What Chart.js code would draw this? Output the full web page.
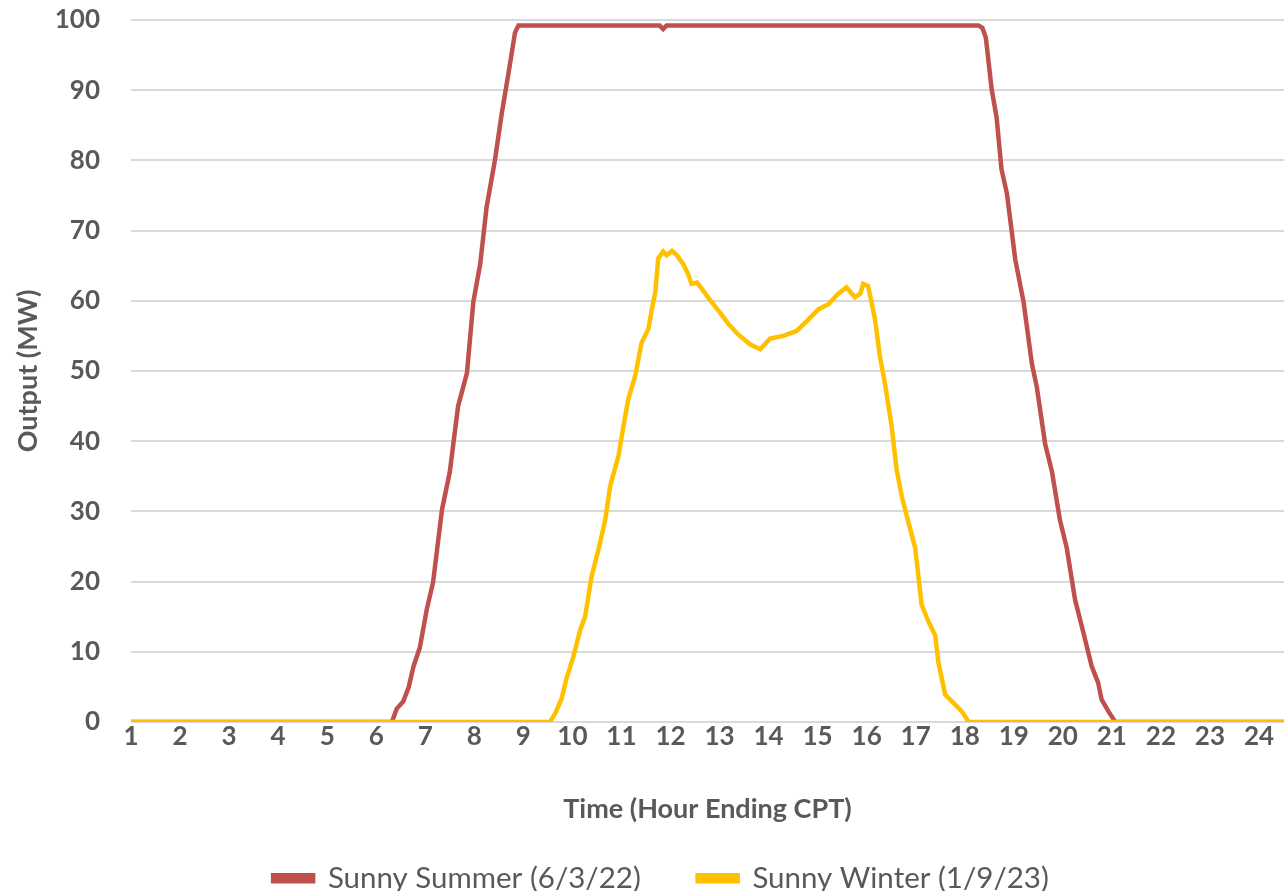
<!DOCTYPE html>
<html>
<head>
<meta charset="utf-8">
<script src="https://cdn.jsdelivr.net/npm/chart.js@4.4.0/dist/chart.umd.min.js"></script>
<style>
  html, body { margin: 0; padding: 0; background: #ffffff; }
  #wrap { width: 1284px; height: 891px; }
</style>
</head>
<body>
<div id="wrap"><canvas id="chartSolar"></canvas></div>
<script>
// hour ending (CPT) -> output (MW)
const summerHours = [1, 6.32, 6.42, 6.55, 6.66, 6.76, 6.89, 7.03, 7.16, 7.34, 7.50, 7.67, 7.85, 7.98,
    8.12, 8.25, 8.42, 8.56, 8.69, 8.83, 8.90, 11.78, 11.85, 11.92, 18.28, 18.36, 18.43, 18.55, 18.65,
    18.75, 18.86, 19.03, 19.20, 19.37, 19.47, 19.64, 19.78, 19.94, 20.08, 20.25, 20.42, 20.59, 20.72,
    20.79, 20.93, 21.07, 24.9];
const summerMW = [0, 0, 1.9, 2.9, 4.9, 7.9, 10.6, 16, 19.9, 30.2, 35.6, 45, 49.7, 59.8,
    65.2, 73.3, 80, 86.7, 92.1, 98.2, 99.2, 99.2, 98.7, 99.2, 99.2, 98.9, 97.5, 90.1, 86.1,
    78.7, 75.3, 65.9, 59.8, 51, 47.7, 39.6, 35.6, 28.8, 24.8, 17.4, 12.7, 7.9, 5.6,
    3.2, 1.5, 0, 0];

const winterHours = [1, 9.54, 9.65, 9.78, 9.88, 10.02, 10.16, 10.26, 10.39, 10.53, 10.67, 10.77, 10.94,
    11.04, 11.14, 11.28, 11.41, 11.55, 11.62, 11.69, 11.75, 11.85, 11.92, 12.03, 12.13, 12.26, 12.36,
    12.43, 12.54, 12.67, 12.84, 13.01, 13.18, 13.38, 13.62, 13.83, 14.03, 14.30, 14.57, 14.78, 15.02,
    15.22, 15.42, 15.59, 15.76, 15.87, 15.93, 16.03, 16.17, 16.27, 16.38, 16.51, 16.61, 16.72, 16.85,
    16.99, 17.12, 17.26, 17.40, 17.46, 17.60, 17.77, 17.94, 18.08, 24.9];
const winterMW = [0, 0, 1.2, 3.3, 6.2, 9.3, 13.1, 15, 20.7, 24.5, 28.8, 33.6, 37.9,
    42.1, 46, 49.3, 54, 56, 58.8, 61.2, 66, 67, 66.5, 67.1, 66.5, 65.2, 63.8,
    62.4, 62.6, 61.4, 59.8, 58.3, 56.7, 55.2, 53.8, 53.1, 54.6, 55, 55.7, 57.1, 58.8,
    59.5, 61, 61.9, 60.5, 61, 62.4, 62.1, 57.4, 52.1, 47.9, 42.1, 36, 32, 28.5,
    24.8, 16.7, 14.3, 12.3, 8.6, 3.9, 2.7, 1.5, 0, 0];

const seriesNames = ["Sunny Summer (6/3/22)", "Sunny Winter (1/9/23)"];
const xTicks = [1, 2, 3, 4, 5, 6, 7, 8, 9, 10, 11, 12, 13, 14, 15, 16, 17, 18, 19, 20, 21, 22, 23, 24];
const yTicks = [0, 10, 20, 30, 40, 50, 60, 70, 80, 90, 100];

const textColor = "#595959";

function toPoints(xs, ys) {
    return xs.map((x, i) => ({ x: x, y: ys[i] }));
}

const data = {
    datasets: [
        {
            label: seriesNames[0],
            data: toPoints(summerHours, summerMW),
            borderColor: "#C0504D",
            backgroundColor: "#C0504D",
            borderWidth: 4.5,
            pointRadius: 0,
            tension: 0,
            order: 1,
        },
        {
            // winter drawn on top, like the reference
            label: seriesNames[1],
            data: toPoints(winterHours, winterMW),
            borderColor: "#FFC000",
            backgroundColor: "#FFC000",
            borderWidth: 4.5,
            pointRadius: 0,
            tension: 0,
            order: 0,
        },
    ],
};

const config = {
    type: "line",
    data: data,
    options: {
        responsive: true,
        maintainAspectRatio: false,
        animation: false,
        layout: { padding: { top: 0, right: 0, bottom: -12, left: 38 } },
        scales: {
            x: {
                type: "linear",
                min: 1,
                max: 24.51,
                grid: { display: false },
                border: { display: false },
                afterBuildTicks: (axis) => {
                    axis.ticks = xTicks.map((v) => ({ value: v }));
                },
                ticks: {
                    autoSkip: false,
                    maxRotation: 0,
                    padding: -9,
                    color: textColor,
                    font: { family: "Lato", size: 26, weight: "bold" },
                },
                title: {
                    display: true,
                    text: "Time (Hour Ending CPT)",
                    color: textColor,
                    padding: { top: 50, bottom: 34 },
                    font: { family: "Lato", size: 27, weight: "bold" },
                },
            },
            y: {
                min: 0,
                max: 100,
                afterBuildTicks: (axis) => {
                    axis.ticks = yTicks.map((v) => ({ value: v }));
                },
                afterFit: (axis) => {
                    axis.width = 93;
                    axis.paddingTop = 20;
                    axis.paddingBottom = 0;
                },
                grid: { color: "#D9D9D9", lineWidth: 2, drawTicks: false },
                border: { display: false },
                ticks: {
                    padding: 31,
                    color: textColor,
                    font: { family: "Lato", size: 26, weight: "bold" },
                },
                title: {
                    display: true,
                    text: "Output (MW)",
                    color: textColor,
                    padding: { top: -26, bottom: 0 },
                    font: { family: "Lato", size: 27, weight: "bold" },
                },
            },
        },
        plugins: {
            tooltip: { enabled: false },
            legend: {
                position: "bottom",
                labels: {
                    boxWidth: 40,
                    boxHeight: 6,
                    padding: 4,
                    color: textColor,
                    font: { family: "Lato", size: 29.5, lineHeight: 1 },
                    generateLabels: (chart) =>
                        Chart.defaults.plugins.legend.labels.generateLabels(chart).map((l) => ({
                            ...l,
                            text: l.datasetIndex === 0 ? l.text + "\u00a0".repeat(7) : l.text,
                        })),
                    sort: (a, b) => a.datasetIndex - b.datasetIndex,
                },
            },
        },
    },
};

new Chart(document.getElementById("chartSolar"), config);
</script>
</body>
</html>
